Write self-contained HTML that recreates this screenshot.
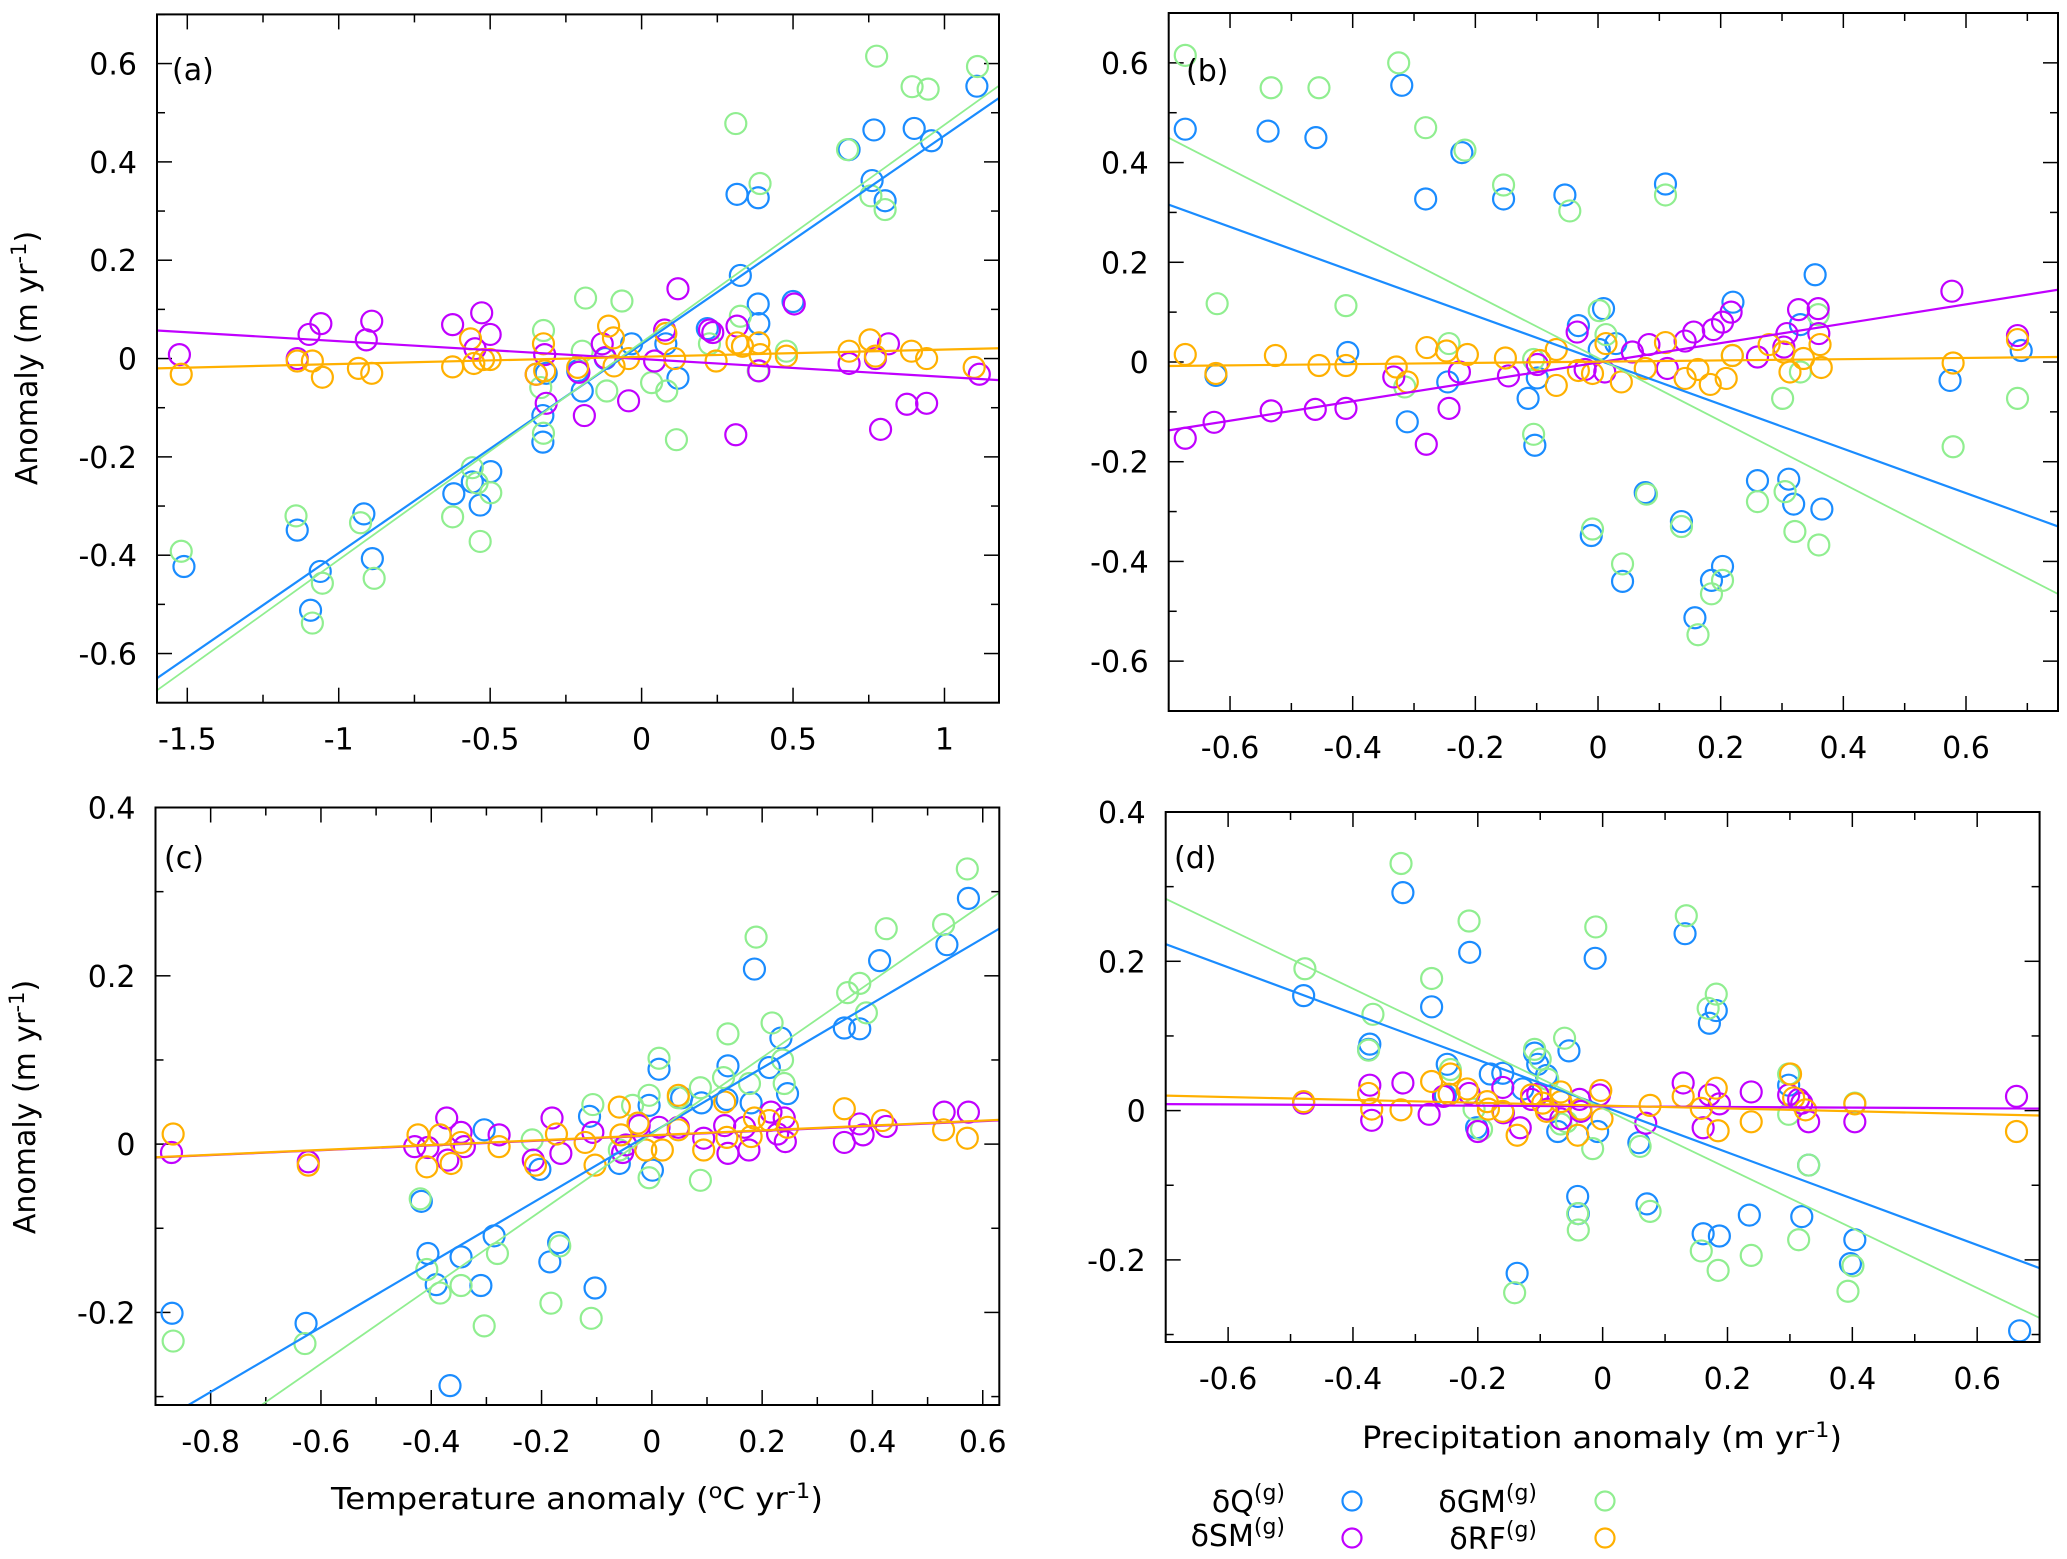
<!DOCTYPE html>
<html><head><meta charset="utf-8"><style>
html,body{margin:0;padding:0;background:#fff;}
svg{display:block;font-family:"DejaVu Sans","Liberation Sans",sans-serif;}
</style></head><body>
<svg id="chart" xmlns="http://www.w3.org/2000/svg" width="2067" height="1559" viewBox="0 0 2067 1559">
<rect width="2067" height="1559" fill="#fff"/>
<g id="root"></g>
<text transform="translate(37,358) rotate(-90)" text-anchor="middle" font-size="30" fill="#000">Anomaly (m yr<tspan dy="-11" font-size="21">-1</tspan><tspan dy="11">)</tspan></text>
<text transform="translate(35,1107) rotate(-90)" text-anchor="middle" font-size="30" fill="#000">Anomaly (m yr<tspan dy="-11" font-size="21">-1</tspan><tspan dy="11">)</tspan></text>
<text x="331" y="1509" font-size="30" textLength="492" lengthAdjust="spacingAndGlyphs" fill="#000">Temperature anomaly (<tspan dy="-11" font-size="21">o</tspan><tspan dy="11">C yr</tspan><tspan dy="-11" font-size="21">-1</tspan><tspan dy="11">)</tspan></text>
<text x="1362" y="1448" font-size="30" textLength="480" lengthAdjust="spacingAndGlyphs" fill="#000">Precipitation anomaly (m yr<tspan dy="-11" font-size="21">-1</tspan><tspan dy="11">)</tspan></text>
<g font-size="30" fill="#000">
<text x="1285" y="1512" text-anchor="end">δQ<tspan dy="-12" font-size="22">(g)</tspan></text>
<text x="1285" y="1546" text-anchor="end">δSM<tspan dy="-12" font-size="22">(g)</tspan></text>
<text x="1537" y="1512" text-anchor="end">δGM<tspan dy="-12" font-size="22">(g)</tspan></text>
<text x="1537" y="1549" text-anchor="end">δRF<tspan dy="-12" font-size="22">(g)</tspan></text>
<circle cx="1352" cy="1501" r="9.5" fill="none" stroke="#1a8cff" stroke-width="2.2"/>
<circle cx="1352" cy="1538" r="9.5" fill="none" stroke="#c000ff" stroke-width="2.2"/>
<circle cx="1605" cy="1501" r="9.5" fill="none" stroke="#90ee90" stroke-width="2.2"/>
<circle cx="1605" cy="1538" r="9.5" fill="none" stroke="#ffb000" stroke-width="2.2"/>
</g>
</svg>
<script>
// ---------- DATA ----------
// Panel a: temperature anomaly vs anomalies
const aQ = [[-1.511,-0.423],[-1.137,-0.349],[-1.061,-0.433],[-1.093,-0.512],[-0.917,-0.316],[-0.889,-0.407],[-0.62,-0.275],[-0.559,-0.251],[-0.533,-0.298],[-0.498,-0.23],[-0.326,-0.116],[-0.326,-0.17],[-0.315,-0.03],[-0.196,-0.066],[-0.211,-0.025],[-0.12,0],[-0.033,0.03],[0.08,0.03],[0.12,-0.04],[0.217,0.061],[0.326,0.169],[0.315,0.334],[0.385,0.327],[0.385,0.111],[0.387,0.071],[0.5,0.116],[0.685,0.425],[0.767,0.465],[0.761,0.362],[0.804,0.321],[0.9,0.468],[0.957,0.443],[1.107,0.554]];
const aGM = [[-1.52,-0.392],[-1.141,-0.32],[-1.054,-0.457],[-1.087,-0.538],[-0.928,-0.334],[-0.883,-0.447],[-0.624,-0.322],[-0.559,-0.222],[-0.543,-0.253],[-0.533,-0.372],[-0.498,-0.273],[-0.324,0.057],[-0.333,-0.059],[-0.324,-0.152],[-0.185,0.123],[-0.065,0.117],[-0.196,0.015],[-0.115,-0.066],[0.033,-0.049],[0.083,-0.066],[0.115,-0.165],[0.224,0.03],[0.326,0.086],[0.311,0.478],[0.391,0.356],[0.385,-0.025],[0.478,0.015],[0.68,0.425],[0.757,0.331],[0.776,0.615],[0.804,0.303],[0.893,0.553],[0.946,0.548],[1.109,0.594]];
const aSM = [[-1.526,0.008],[-1.137,0],[-1.098,0.049],[-1.059,0.071],[-0.909,0.038],[-0.891,0.076],[-0.624,0.069],[-0.528,0.093],[-0.5,0.049],[-0.55,0.02],[-0.348,-0.032],[-0.32,0.008],[-0.315,-0.091],[-0.189,-0.116],[-0.207,-0.028],[-0.13,0.03],[-0.12,0.002],[-0.043,-0.086],[0.043,-0.005],[0.076,0.058],[0.12,0.142],[0.224,0.058],[0.235,0.053],[0.311,-0.155],[0.315,0.066],[0.387,-0.025],[0.504,0.111],[0.685,-0.01],[0.772,0],[0.789,-0.144],[0.815,0.03],[0.876,-0.093],[0.941,-0.091],[1.115,-0.032]];
const aRF = [[-1.52,-0.032],[-1.137,-0.005],[-1.087,-0.005],[-1.054,-0.038],[-0.935,-0.02],[-0.891,-0.03],[-0.624,-0.017],[-0.565,0.04],[-0.554,-0.01],[-0.522,-0.002],[-0.5,-0.002],[-0.348,-0.032],[-0.324,0.03],[-0.32,-0.025],[-0.211,-0.018],[-0.109,0.066],[-0.093,0.042],[-0.091,-0.015],[-0.043,0],[0.08,0.051],[0.109,0],[0.246,-0.005],[0.315,0.032],[0.333,0.025],[0.387,0.032],[0.391,0.008],[0.478,0.005],[0.685,0.015],[0.754,0.038],[0.772,0.005],[0.891,0.015],[0.941,0],[1.098,-0.018]];
// fits [slope, intercept] for Q, GM, SM, RF
const aFitSlopes = [0.4245, 0.4424, -0.0363, 0.0147];
const aFitIntercepts = [0.029, 0.033, -0.001, 0.0036];

// Panel b: precipitation anomaly
const bQ = [[-0.673,0.467],[-0.623,-0.027],[-0.538,0.463],[-0.46,0.45],[-0.408,0.019],[-0.32,0.555],[-0.311,-0.12],[-0.281,0.327],[-0.245,-0.04],[-0.222,0.42],[-0.154,0.327],[-0.114,-0.073],[-0.103,-0.167],[-0.099,-0.032],[-0.054,0.335],[-0.032,0.073],[-0.011,-0.348],[0.009,0.107],[0.002,0.025],[0.029,0.037],[0.04,-0.44],[0.077,-0.262],[0.11,0.357],[0.136,-0.32],[0.158,-0.513],[0.185,-0.438],[0.203,-0.41],[0.22,0.12],[0.26,-0.238],[0.311,-0.235],[0.319,-0.285],[0.33,0.075],[0.354,0.175],[0.365,-0.295],[0.574,-0.037],[0.69,0.023]];
const bGM = [[-0.673,0.615],[-0.621,0.117],[-0.533,0.55],[-0.455,0.55],[-0.411,0.113],[-0.325,0.6],[-0.315,-0.05],[-0.281,0.47],[-0.243,0.037],[-0.217,0.425],[-0.154,0.355],[-0.105,-0.145],[-0.105,0.005],[-0.046,0.303],[-0.009,-0.335],[0.002,0.103],[0.013,0.055],[0.04,-0.405],[0.079,-0.265],[0.11,0.335],[0.136,-0.33],[0.163,-0.547],[0.185,-0.465],[0.203,-0.438],[0.219,0.013],[0.26,-0.28],[0.301,-0.073],[0.305,-0.26],[0.321,-0.34],[0.33,-0.02],[0.359,0.095],[0.36,-0.367],[0.579,-0.17],[0.684,-0.073]];
const bSM = [[-0.673,-0.153],[-0.626,-0.121],[-0.533,-0.098],[-0.461,-0.095],[-0.411,-0.093],[-0.333,-0.03],[-0.28,-0.165],[-0.243,-0.093],[-0.226,-0.02],[-0.146,-0.028],[-0.099,-0.005],[-0.034,0.06],[-0.021,-0.015],[0.011,-0.02],[0.056,0.02],[0.083,0.035],[0.113,-0.013],[0.142,0.042],[0.156,0.06],[0.188,0.065],[0.203,0.08],[0.217,0.1],[0.26,0.01],[0.303,0.03],[0.308,0.057],[0.327,0.105],[0.359,0.107],[0.36,0.057],[0.577,0.142],[0.684,0.053]];
const bRF = [[-0.673,0.015],[-0.623,-0.023],[-0.526,0.013],[-0.455,-0.007],[-0.411,-0.007],[-0.329,-0.01],[-0.311,-0.04],[-0.279,0.029],[-0.247,0.022],[-0.213,0.015],[-0.151,0.008],[-0.095,0.003],[-0.068,0.025],[-0.068,-0.047],[-0.032,-0.017],[-0.009,-0.023],[0.013,0.037],[0.038,-0.04],[0.077,-0.013],[0.11,0.039],[0.142,-0.033],[0.163,-0.015],[0.183,-0.045],[0.209,-0.033],[0.219,0.013],[0.279,0.035],[0.303,0.02],[0.313,-0.02],[0.335,0.007],[0.362,0.035],[0.364,-0.011],[0.579,-0.002],[0.684,0.045]];
const bFitSlopes = [-0.445, -0.631, 0.1945, 0.0124];
const bFitIntercepts = [0.004, 0.008, -0.001, 0.0007];

// Panel c: temperature anomaly
const cQ = [[-0.87,-0.201],[-0.627,-0.213],[-0.418,-0.068],[-0.406,-0.13],[-0.391,-0.167],[-0.346,-0.134],[-0.31,-0.168],[-0.304,0.017],[-0.286,-0.109],[-0.203,-0.03],[-0.185,-0.14],[-0.169,-0.117],[-0.366,-0.287],[-0.113,0.033],[-0.103,-0.171],[-0.059,-0.023],[-0.005,0.046],[0.001,-0.031],[0.013,0.089],[0.054,0.055],[0.09,0.049],[0.138,0.093],[0.136,0.053],[0.18,0.049],[0.186,0.208],[0.213,0.091],[0.234,0.126],[0.246,0.06],[0.349,0.138],[0.377,0.137],[0.413,0.218],[0.535,0.237],[0.574,0.292]];
const cGM = [[-0.868,-0.234],[-0.629,-0.237],[-0.42,-0.065],[-0.408,-0.149],[-0.384,-0.177],[-0.346,-0.168],[-0.304,-0.216],[-0.28,-0.13],[-0.217,0.005],[-0.183,-0.189],[-0.167,-0.121],[-0.11,-0.207],[-0.107,0.047],[-0.059,-0.007],[-0.035,0.046],[-0.005,0.058],[-0.005,-0.04],[0.013,0.102],[0.048,0.055],[0.088,-0.043],[0.088,0.067],[0.13,0.079],[0.138,0.131],[0.177,0.072],[0.189,0.246],[0.218,0.144],[0.237,0.1],[0.24,0.072],[0.355,0.18],[0.377,0.191],[0.389,0.156],[0.425,0.256],[0.529,0.261],[0.572,0.327]];
const cSM = [[-0.871,-0.01],[-0.623,-0.021],[-0.43,-0.003],[-0.406,-0.004],[-0.372,0.031],[-0.37,-0.019],[-0.346,0.014],[-0.34,-0.003],[-0.277,0.011],[-0.215,-0.019],[-0.181,0.031],[-0.165,-0.011],[-0.107,0.014],[-0.053,-0.01],[-0.047,-0.001],[-0.023,0.022],[0.013,0.02],[0.048,0.02],[0.094,0.007],[0.132,0.022],[0.138,-0.011],[0.168,0.02],[0.176,-0.007],[0.216,0.038],[0.228,0.012],[0.24,0.031],[0.242,0.003],[0.349,0.002],[0.377,0.024],[0.383,0.011],[0.425,0.021],[0.53,0.038],[0.574,0.038]];
const cRF = [[-0.868,0.012],[-0.623,-0.025],[-0.424,0.011],[-0.408,-0.027],[-0.384,0.011],[-0.364,-0.023],[-0.346,0.002],[-0.277,-0.003],[-0.211,-0.025],[-0.173,0.012],[-0.121,0.002],[-0.103,-0.025],[-0.059,0.044],[-0.056,0.011],[-0.025,0.025],[-0.011,-0.007],[0.019,-0.007],[0.048,0.058],[0.048,0.017],[0.094,-0.007],[0.132,0.05],[0.136,0.008],[0.18,0.009],[0.186,0.031],[0.213,0.028],[0.246,0.02],[0.349,0.042],[0.418,0.028],[0.529,0.017],[0.572,0.007]];
const cFitSlopes = [0.385, 0.455, 0.0288, 0.029];
const cFitIntercepts = [0.0135, 0.012, 0.010, 0.0105];

// Panel d: precipitation anomaly
const dQ = [[-0.479,0.154],[-0.373,0.089],[-0.375,0.082],[-0.32,0.292],[-0.274,0.139],[-0.249,0.062],[-0.252,0.02],[-0.213,0.212],[-0.202,-0.023],[-0.18,0.049],[-0.16,0.05],[-0.137,-0.218],[-0.128,0.029],[-0.109,0.077],[-0.104,0.062],[-0.09,0.047],[-0.072,-0.028],[-0.054,0.08],[-0.04,-0.115],[-0.039,-0.138],[-0.035,-0.001],[-0.012,0.204],[-0.008,-0.028],[0.058,-0.043],[0.071,-0.125],[0.132,0.237],[0.161,-0.165],[0.171,0.117],[0.182,0.134],[0.187,-0.168],[0.235,-0.14],[0.298,0.034],[0.319,-0.142],[0.33,-0.073],[0.397,-0.205],[0.404,-0.173],[0.668,-0.295]];
const dGM = [[-0.477,0.19],[-0.375,0.081],[-0.368,0.129],[-0.323,0.331],[-0.274,0.177],[-0.244,0.055],[-0.214,0.254],[-0.206,0.002],[-0.194,-0.025],[-0.141,-0.244],[-0.109,0.082],[-0.1,0.069],[-0.088,0.042],[-0.067,-0.018],[-0.061,0.097],[-0.058,-0.015],[-0.04,-0.138],[-0.039,-0.16],[-0.016,-0.051],[-0.011,0.246],[0.06,-0.048],[0.076,-0.135],[0.134,0.261],[0.158,-0.188],[0.169,0.137],[0.182,0.156],[0.185,-0.214],[0.238,-0.194],[0.298,0.049],[0.298,-0.005],[0.314,-0.173],[0.33,-0.073],[0.393,-0.242],[0.401,-0.208],[0.404,0.01]];
const dSM = [[-0.479,0.01],[-0.373,0.034],[-0.37,-0.013],[-0.32,0.037],[-0.278,-0.005],[-0.255,0.019],[-0.214,0.023],[-0.2,-0.028],[-0.16,0.031],[-0.159,-0.003],[-0.132,-0.023],[-0.114,0.015],[-0.104,0.022],[-0.088,0.002],[-0.067,-0.011],[-0.037,0.015],[-0.035,-0.001],[-0.005,0.021],[0.069,-0.017],[0.129,0.037],[0.161,-0.023],[0.171,0.021],[0.187,0.009],[0.238,0.025],[0.298,0.021],[0.314,0.015],[0.319,0.01],[0.33,-0.015],[0.404,-0.015],[0.663,0.019]];
const dRF = [[-0.479,0.012],[-0.375,0.023],[-0.37,0.002],[-0.323,0.001],[-0.274,0.039],[-0.244,0.049],[-0.246,0.022],[-0.217,0.029],[-0.185,0.012],[-0.183,0.002],[-0.16,-0.001],[-0.137,-0.033],[-0.114,0.021],[-0.096,0.01],[-0.09,-0.001],[-0.067,0.025],[-0.067,0.012],[-0.04,-0.033],[-0.035,0.002],[-0.003,0.027],[-0.001,-0.011],[0.076,0.007],[0.129,0.019],[0.158,0.003],[0.182,0.03],[0.185,-0.027],[0.238,-0.015],[0.301,0.049],[0.306,0.017],[0.325,0.001],[0.404,0.009],[0.663,-0.028]];
const dFitSlopes = [-0.31, -0.401, -0.0043, -0.019];
const dFitIntercepts = [0.006, 0.003, 0.0057, 0.0067];

// Tick labels
const aXTicks = ["-1.5","-1","-0.5","0","0.5","1"];
const bXTicks = ["-0.6","-0.4","-0.2","0","0.2","0.4","0.6"];
const cXTicks = ["-0.8","-0.6","-0.4","-0.2","0","0.2","0.4","0.6"];
const dXTicks = ["-0.6","-0.4","-0.2","0","0.2","0.4","0.6"];
const abYTicks = ["-0.6","-0.4","-0.2","0","0.2","0.4","0.6"];
const cdYTicks = ["-0.2","0","0.2","0.4"];

// ---------- LAYOUT ----------
const COLORS = ["#1a8cff","#90ee90","#c000ff","#ffb000"];
const SERIES = ["q","gm","sm","rf"];
const NS = "http://www.w3.org/2000/svg";
const root = document.getElementById('root');
function mk(tag, attrs, parent){ const e=document.createElementNS(NS,tag); for(const k in attrs) e.setAttribute(k,attrs[k]); (parent||root).appendChild(e); return e; }

const panels = [
 {id:'a', L:157, R:999, T:14.4, B:702.7, x0:-1.6, x1:1.18, y0:-0.7, y1:0.7, xt:aXTicks, xminor:0.25, yt:abYTicks, yminor:0.1, data:[aQ,aGM,aSM,aRF], fs:aFitSlopes, fi:aFitIntercepts, lx:172, ly:80},
 {id:'b', L:1168.7, R:2058, T:13, B:711, x0:-0.7, x1:0.75, y0:-0.7, y1:0.7, xt:bXTicks, xminor:0.1, yt:abYTicks, yminor:0.1, data:[bQ,bGM,bSM,bRF], fs:bFitSlopes, fi:bFitIntercepts, lx:1186, ly:81},
 {id:'c', L:155.5, R:999.3, T:807.5, B:1405, x0:-0.9, x1:0.63, y0:-0.31, y1:0.4, xt:cXTicks, xminor:0.1, yt:cdYTicks, yminor:0.1, data:[cQ,cGM,cSM,cRF], fs:cFitSlopes, fi:cFitIntercepts, lx:164, ly:868},
 {id:'d', L:1165.7, R:2039.6, T:812, B:1342, x0:-0.7, x1:0.7, y0:-0.31, y1:0.4, xt:dXTicks, xminor:0.1, yt:cdYTicks, yminor:0.1, data:[dQ,dGM,dSM,dRF], fs:dFitSlopes, fi:dFitIntercepts, lx:1174, ly:868}
];

panels.forEach(p=>{
  const sx = v => p.L + (v-p.x0)/(p.x1-p.x0)*(p.R-p.L);
  const sy = v => p.B - (v-p.y0)/(p.y1-p.y0)*(p.B-p.T);
  const g = mk('g',{});
  
  
  const clipId='clip'+p.id;
  const cp = mk('clipPath',{id:clipId},g);
  mk('rect',{x:p.L,y:p.T,width:p.R-p.L,height:p.B-p.T},cp);
  // minor ticks
  const ax = mk('g',{stroke:'#000','stroke-width':1.5},g);
  
  
  const xs = Math.ceil((p.x0-1e-9)/p.xminor), xe=Math.floor((p.x1+1e-9)/p.xminor);
  const majX = p.xt.map(Number);
  for(let i=xs;i<=xe;i++){
    const v=i*p.xminor; const X=sx(v);
    const isMaj = majX.some(m=>Math.abs(m-v)<1e-6);
    const len = isMaj?15:8;
    mk('line',{x1:X,x2:X,y1:p.B,y2:p.B-len},ax);
    mk('line',{x1:X,x2:X,y1:p.T,y2:p.T+len},ax);
  }
  const majY = p.yt.map(Number);
  const ys = Math.ceil((p.y0-1e-9)/p.yminor), ye=Math.floor((p.y1+1e-9)/p.yminor);
  for(let i=ys;i<=ye;i++){
    const v=i*p.yminor; const Y=sy(v);
    const isMaj = majY.some(m=>Math.abs(m-v)<1e-6);
    const len = isMaj?15:8;
    mk('line',{x1:p.L,x2:p.L+len,y1:Y,y2:Y},ax);
    mk('line',{x1:p.R,x2:p.R-len,y1:Y,y2:Y},ax);
  }
  // tick labels
  p.xt.forEach(t=>{
    const e = mk('text',{x:sx(Number(t)),y:p.B+47,'text-anchor':'middle','font-size':30,fill:'#000'},g);
    
    
    e.textContent=t;
  });
  p.yt.forEach(t=>{
    const e = mk('text',{x:p.L-20,y:sy(Number(t))+11,'text-anchor':'end','font-size':30,fill:'#000'},g);
    
    
    e.textContent=t;
  });
  // data
  const dg = mk('g',{'clip-path':'url(#'+clipId+')'},g);
  p.data.forEach((ser,si)=>{
    const sg = mk('g',{fill:'none',stroke:COLORS[si],'stroke-width':2.2},dg);
    
    
    ser.forEach(pt=>{
      const c = mk('circle',{cx:sx(pt[0]),cy:sy(pt[1]),r:10.5},sg);
      
      
    });
  });
  // fit lines
  [0,1,2,3].forEach(si=>{
    const m=p.fs[si], b=p.fi[si];
    const ln = mk('line',{x1:sx(p.x0),y1:sy(m*p.x0+b),x2:sx(p.x1),y2:sy(m*p.x1+b),stroke:COLORS[si],'stroke-width':si===1?1.8:2.2},dg);
    
    
  });
  const fr = mk('rect',{x:p.L,y:p.T,width:p.R-p.L,height:p.B-p.T,fill:'none',stroke:'#000','stroke-width':2},g);
  
  
  const lb = mk('text',{x:p.lx,y:p.ly,'font-size':30,fill:'#000'},g);
  
  
  lb.textContent='('+p.id+')';
});
</script>
</body></html>
